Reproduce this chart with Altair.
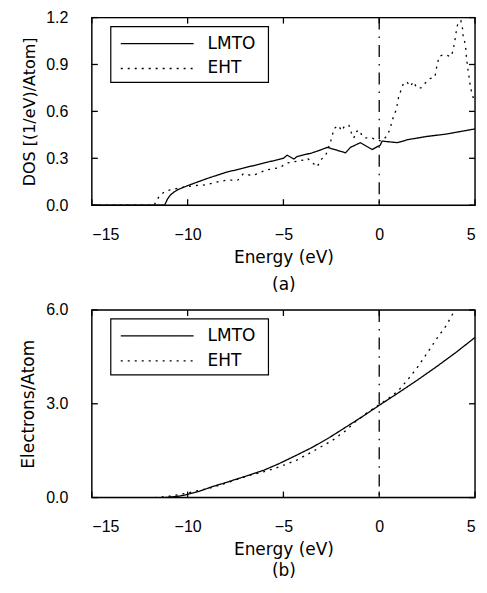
import altair as alt
import pandas as pd

# ---------------- data ----------------
series = ["LMTO", "EHT"]
x_ticks = [-15, -10, -5, 0, 5]
dos_ticks = [0.0, 0.3, 0.6, 0.9, 1.2]
n_ticks = [0.0, 3.0, 6.0]
fermi = [0.0]

# (a) density of states
dos_e_lmto = [-15, -11.2, -11.05, -10.9, -10.7, -10.5, -10.2, -10.0, -9.0, -8.0,
              -7.0, -6.0, -5.0, -4.8, -4.45, -4.3, -3.5, -3.13, -2.71, -2.3,
              -1.76, -1.5, -0.98, -0.37, 0.06, 0.15, 0.93, 1.53, 2.5, 3.5, 5.0]
dos_lmto = [0.0, 0.0, 0.04, 0.065, 0.085, 0.10, 0.115, 0.125, 0.17, 0.21,
            0.24, 0.27, 0.30, 0.32, 0.295, 0.31, 0.335, 0.35, 0.37, 0.355,
            0.335, 0.37, 0.40, 0.356, 0.385, 0.41, 0.40, 0.42, 0.44, 0.455, 0.488]

dos_e_eht = [-15, -11.75, -11.47, -11.17, -10.8, -10.44, -9.7, -9.04, -8.4, -7.95,
             -7.38, -7.1, -6.6, -5.9, -5.2, -4.8, -3.9, -3.75, -3.24, -3.05,
             -2.79, -2.53, -2.44, -2.36, -2.13, -1.96, -1.79, -1.58, -1.46, -1.32,
             -1.23, -1.02, -0.89, -0.71, -0.4, -0.16, 0.1, 0.39, 0.54, 0.66,
             0.75, 0.89, 1.01, 1.15, 1.27, 1.44, 1.62, 1.79, 1.96, 2.18,
             2.39, 2.65, 2.91, 2.96, 3.05, 3.12, 3.29, 3.51, 3.74, 3.86,
             3.91, 3.98, 4.03, 4.12, 4.26, 4.35, 4.38, 4.47, 4.52, 4.55,
             4.59, 4.64, 4.69, 4.73, 4.81, 4.9, 5.0]
dos_eht = [0.0, 0.0, 0.06, 0.09, 0.10, 0.11, 0.125, 0.13, 0.15, 0.16,
           0.16, 0.20, 0.19, 0.225, 0.24, 0.27, 0.29, 0.30, 0.245, 0.29,
           0.32, 0.41, 0.45, 0.49, 0.51, 0.475, 0.51, 0.51, 0.465, 0.43,
           0.47, 0.48, 0.44, 0.43, 0.43, 0.42, 0.41, 0.44, 0.48, 0.53,
           0.57, 0.61, 0.69, 0.74, 0.78, 0.79, 0.76, 0.79, 0.75, 0.75,
           0.78, 0.81, 0.82, 0.86, 0.91, 0.95, 0.96, 0.96, 0.95, 0.99,
           1.03, 1.075, 1.12, 1.17, 1.18, 1.13, 1.08, 1.04, 1.00, 0.95,
           0.91, 0.86, 0.82, 0.78, 0.73, 0.69, 0.66]

# (b) integrated number of electrons
n_e_lmto = [-15, -11.2, -11.0, -10.7, -10.4, -10.0, -9.3, -8.66, -8.0, -7.5,
            -6.93, -6.0, -5.21, -4.3, -3.48, -2.6, -1.75, -0.9, 0.0, 1.0,
            2.0, 3.0, 4.0, 5.0]
n_lmto = [0.0, 0.0, 0.01, 0.03, 0.05, 0.10, 0.22, 0.36, 0.48, 0.58,
          0.69, 0.88, 1.09, 1.36, 1.61, 1.92, 2.25, 2.58, 2.95, 3.35,
          3.76, 4.19, 4.64, 5.12]
n_e_eht = [-15, -11.7, -11.0, -10.04, -9.3, -8.66, -7.8, -6.93, -6.0, -5.21,
           -4.3, -3.48, -2.44, -1.75, -1.23, -0.72, 0.0, 0.5, 1.0, 1.5,
           2.0, 2.5, 3.0, 3.5, 3.86, 4.0]
n_eht = [0.0, 0.0, 0.04, 0.14, 0.24, 0.33, 0.50, 0.68, 0.83, 0.98,
         1.20, 1.47, 1.83, 2.14, 2.43, 2.68, 2.97, 3.18, 3.42, 3.78,
         4.17, 4.62, 5.08, 5.5, 5.9, 6.0]

# ---------------- styling ----------------
W, H = 384, 188
TICK = 6
LABEL_FONT = "Liberation Sans"
TITLE_FONT = "DejaVu Sans"
DASHES = [[1, 0], [2, 5]]
# legend box geometry (pixels inside the plot area)
LEG_X0, LEG_X1, LEG_Y0, LEG_Y1 = 19, 177, 9, 65
LEG_ROWS = [26, 51]
LEG_SYM = (29, 102)
LEG_TEXT_X = 116


def panel(e1, v1, e2, v2, ymax, yticks, ytitle, sub, ytitle_size, line_h):
    df = pd.concat([
        pd.DataFrame({"E": e1, "v": v1, "method": series[0]}),
        pd.DataFrame({"E": e2, "v": v2, "method": series[1]}),
    ], ignore_index=True)
    xs = alt.Scale(domain=[-15, 5], nice=False, zero=False)
    ys = alt.Scale(domain=[0, ymax], nice=False)
    x_axis = alt.Axis(values=x_ticks, format="d", ticks=False, domain=False,
                      grid=False, labelFont=LABEL_FONT, labelFontSize=16,
                      labelColor="black", labelPadding=21,
                      title=["Energy (eV)", sub], titleFont=TITLE_FONT,
                      titleFontSize=17, titleFontWeight="normal",
                      titleColor="black", titleLineHeight=line_h, titlePadding=7)
    y_axis = alt.Axis(values=yticks, format=".1f", ticks=False, domain=False,
                      grid=False, labelFont=LABEL_FONT, labelFontSize=16,
                      labelColor="black", labelPadding=24,
                      title=ytitle, titleFont=TITLE_FONT,
                      titleFontSize=ytitle_size, titleFontWeight="normal",
                      titleColor="black", titlePadding=8)

    lines = alt.Chart(df).mark_line(color="black", strokeWidth=1.3, clip=True).encode(
        x=alt.X("E:Q", scale=xs, axis=x_axis),
        y=alt.Y("v:Q", scale=ys, axis=y_axis),
        strokeDash=alt.StrokeDash("method:N",
                                  scale=alt.Scale(domain=series, range=DASHES),
                                  legend=None),
    )

    fermi_line = alt.Chart(pd.DataFrame({"E": fermi})).mark_rule(
        color="black", strokeWidth=1.3, strokeDash=[12, 7, 1.5, 7]
    ).encode(x=alt.X("E:Q"))

    one = pd.DataFrame({"k": [0]})
    # plot frame
    frame = alt.Chart(one).mark_rect(fillOpacity=0, stroke="black",
                                     strokeWidth=1.4).encode(
        x=alt.value(0), x2=alt.value(W), y=alt.value(0), y2=alt.value(H))

    # legend drawn as a boxed key
    box = alt.Chart(one).mark_rect(fillOpacity=0, stroke="black",
                                   strokeWidth=1.2).encode(
        x=alt.value(LEG_X0), x2=alt.value(LEG_X1),
        y=alt.value(LEG_Y0), y2=alt.value(LEG_Y1))
    keys = []
    for name, dash, row in zip(series, DASHES, LEG_ROWS):
        keys.append(alt.Chart(one).mark_rule(color="black", strokeWidth=1.3,
                                             strokeDash=dash).encode(
            x=alt.value(LEG_SYM[0]), x2=alt.value(LEG_SYM[1]),
            y=alt.value(row)))
        keys.append(alt.Chart(one).mark_text(
            align="left", baseline="middle", font=TITLE_FONT, fontSize=17,
            color="black").encode(
            x=alt.value(LEG_TEXT_X), y=alt.value(row), text=alt.value(name)))

    # inward tick marks on all four sides
    xt = pd.DataFrame({"E": x_ticks})
    yt = pd.DataFrame({"v": yticks})
    tick_style = dict(color="black", strokeWidth=1.3)
    bottom_ticks = alt.Chart(xt).mark_rule(**tick_style).encode(
        x=alt.X("E:Q"), y=alt.value(H), y2=alt.value(H - TICK))
    top_ticks = alt.Chart(xt).mark_rule(**tick_style).encode(
        x=alt.X("E:Q"), y=alt.value(0), y2=alt.value(TICK))
    left_ticks = alt.Chart(yt).mark_rule(**tick_style).encode(
        y=alt.Y("v:Q"), x=alt.value(0), x2=alt.value(TICK))
    right_ticks = alt.Chart(yt).mark_rule(**tick_style).encode(
        y=alt.Y("v:Q"), x=alt.value(W), x2=alt.value(W - TICK))

    return alt.layer(lines, fermi_line, frame, box, *keys, bottom_ticks, top_ticks,
                     left_ticks, right_ticks).properties(width=W, height=H)


top = panel(dos_e_lmto, dos_lmto, dos_e_eht, dos_eht, 1.2, dos_ticks,
            "DOS [(1/eV)/Atom]", "(a)", 16, 27)
bottom = panel(n_e_lmto, n_lmto, n_e_eht, n_eht, 6.0, n_ticks,
               "Electrons/Atom", "(b)", 17, 21)

chart = alt.vconcat(top, bottom, spacing=8).resolve_scale(
    strokeDash="independent").properties(
    padding={"left": 11, "right": 2, "top": 0, "bottom": 0}
).configure_view(stroke="black", strokeWidth=1.4).configure(background="white")

chart.save("out.html", embed_options={"renderer": "svg", "actions": False})
